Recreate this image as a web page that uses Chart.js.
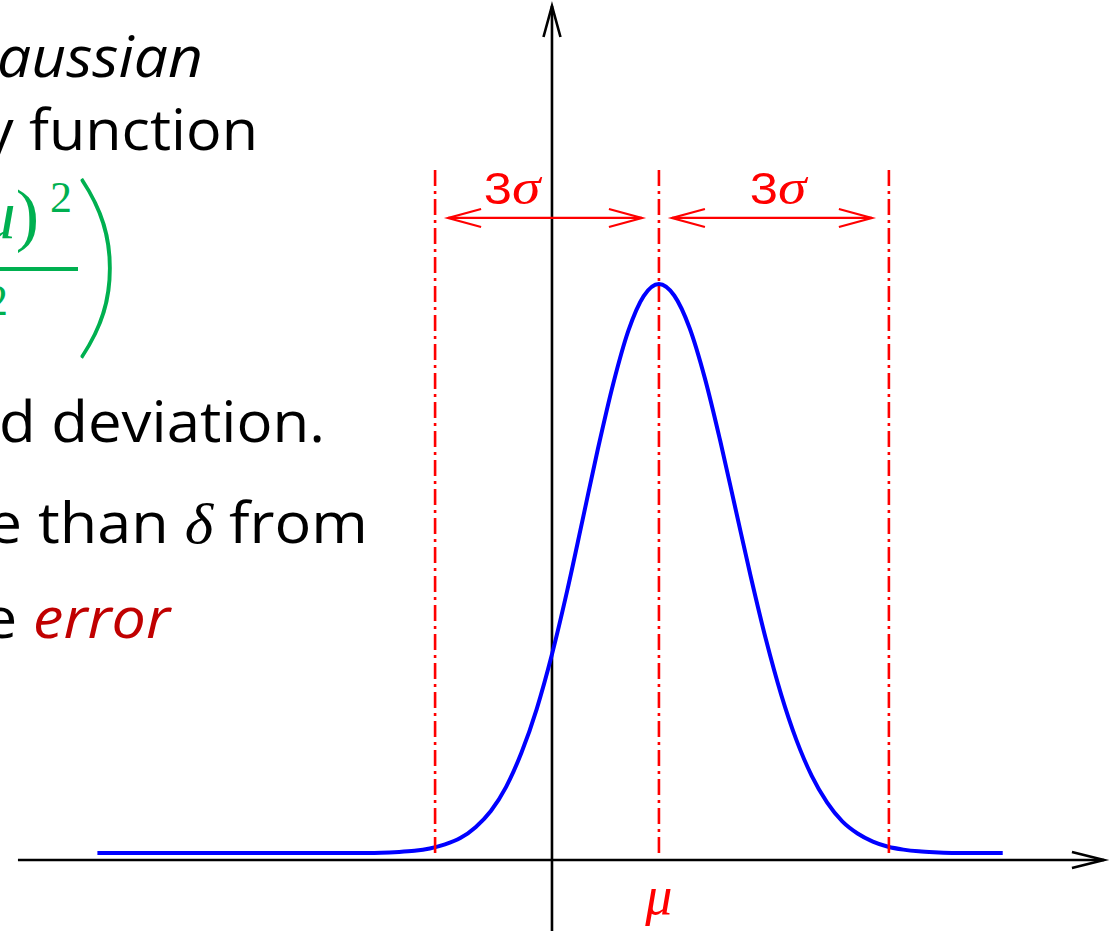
<!DOCTYPE html>
<html>
<head>
<meta charset="utf-8">
<title>Gaussian</title>
<script src="https://cdn.jsdelivr.net/npm/chart.js@4.4.1/dist/chart.umd.min.js"></script>
<style>
  html, body { margin: 0; padding: 0; background: #fff; }
  #wrap { position: relative; width: 1120px; height: 931px; overflow: hidden; background: #fff; }
  #chart-box { position: absolute; left: 0; top: 0; width: 1120px; height: 931px; }
  .fit { position: absolute; left: 0; top: 0; white-space: nowrap; transform-origin: 0 0; line-height: 1; }
  .txt { font-family: "Open Sans", sans-serif; font-size: 56px; color: #000; }
  .math { font-family: "Liberation Serif", serif; color: #00b050; }
  .bl { display: inline-block; width: 0; height: 0; }
  .serif-i { font-family: "Liberation Serif", serif; font-style: italic; }
  #bar { position: absolute; left: 0; top: 267px; width: 78px; height: 4px; background: #00b050; }
  .clab { position: absolute; color: #ff0000; white-space: nowrap; line-height: normal; }
  .sig3 { font-family: "Liberation Sans", sans-serif; font-size: 44px; }
  .mu { font-family: "Liberation Serif", serif; font-style: italic; font-size: 54px; }
  .paren { font-family: Lato, sans-serif; font-weight: 200; font-size: 205px; -webkit-text-stroke: 1.6px #00b050; }
</style>
</head>
<body>
<div id="wrap">
  <!-- slide text, cut off on the left like the original -->
  <div class="fit txt" data-l="-3" data-r="203" data-b="77">The <i>G<span class="anchor">aussian</span></i><span class="bl"></span></div>
  <div class="fit txt" data-l="-16" data-r="258" data-b="150">probability densit<span class="anchor">y function</span><span class="bl"></span></div>
  <div class="fit math" style="font-size:70px;font-style:italic" data-r="39" data-b="238">(<i>x</i> − <i>μ</i><span class="anchor" style="font-style:normal">)</span><span class="bl"></span></div>
  <div class="fit math" style="font-size:44px" data-r="72" data-b="212"><span class="anchor">2</span><span class="bl"></span></div>
  <div id="bar"></div>
  <div class="fit math" style="font-size:44px" data-r="8" data-b="315">2<i>σ</i><span class="anchor">2</span><span class="bl"></span></div>
  <div class="fit math paren" data-r="124" data-b="333"><span class="anchor">)</span><span class="bl"></span></div>
  <div class="fit txt" data-l="-1" data-r="325" data-b="442">where <span class="serif-i">σ</span> is the standar<span class="anchor">d deviation.</span><span class="bl"></span></div>
  <div class="fit txt" data-l="38" data-r="368" data-b="543">Probability of being more <span class="anchor">than <span class="serif-i">δ</span> from</span><span class="bl"></span></div>
  <div class="fit txt" data-l="33" data-r="170" data-b="638">the mean is the <i class="anchor" style="color:#c00000">error</i><span class="bl"></span></div>

  <div id="chart-box"><canvas id="gauss"></canvas></div>

  <div id="lab0" class="clab sig3">3<span class="serif-i" style="font-size:50px">σ</span></div>
  <div id="lab1" class="clab sig3">3<span class="serif-i" style="font-size:50px">σ</span></div>
  <div id="lab2" class="clab mu">μ</div>
</div>

<script>
// curve (x in sigma units, vertical axis at x = 0)
const curveX = [-5.95, -5, -4, -3, -2.4, -2.0, -1.8, -1.6, -1.4, -1.2, -1.0, -0.8, -0.6, -0.4, -0.2, 0,
  0.2, 0.4, 0.6, 0.8, 1.0, 1.2, 1.4, 1.6, 1.8, 2.0, 2.2, 2.4, 2.6, 2.8, 3.0, 3.2, 3.4, 3.6, 3.8,
  4.0, 4.2, 4.4, 4.6, 4.8, 5.0, 5.4, 5.9];
const curveY = [0.012, 0.012, 0.012, 0.012, 0.012, 0.014, 0.016, 0.020, 0.027, 0.038, 0.057, 0.085, 0.127, 0.186, 0.262, 0.357,
  0.468, 0.590, 0.713, 0.826, 0.919, 0.979, 1.000, 0.980, 0.924, 0.837, 0.729, 0.611, 0.493, 0.383, 0.287, 0.208, 0.146, 0.100, 0.067,
  0.046, 0.032, 0.023, 0.018, 0.015, 0.0135, 0.012, 0.012];

// mu - 3 sigma, mu, mu + 3 sigma
const markerX = [-1.53, 1.4, 4.41];
const markerLabels = ['', 'μ', ''];
const spanLabels = ['3σ', '3σ'];

// where things sit, in axis units
const cfg = {
  xMin: -7.225, xMax: 7.435, yMin: -0.1233, yMax: 1.493,
  xAxisFrom: -6.99, xAxisTo: 7.225, yAxisFrom: -0.2, yAxisTo: 1.4826,
  markerBottom: 0.012, markerTop: 1.201,
  spanY: 1.1146, spanLabelX: [-0.52, 2.96], spanLabelY: 1.168, muLabelY: -0.063
};

function openHead(ctx, tx, ty, dx, dy, len, half) {
  const bx = tx - dx * len, by = ty - dy * len;
  ctx.beginPath();
  ctx.moveTo(bx - dy * half, by + dx * half);
  ctx.lineTo(tx, ty);
  ctx.lineTo(bx + dy * half, by - dx * half);
  ctx.stroke();
}

const extras = {
  id: 'extras',
  beforeDatasetsDraw(chart) {
    const { ctx, scales: { x, y } } = chart;
    ctx.save();
    ctx.strokeStyle = '#000';
    ctx.lineWidth = 2.6;
    const yz = y.getPixelForValue(0), xz = x.getPixelForValue(0);
    const xa = x.getPixelForValue(cfg.xAxisFrom), xb = x.getPixelForValue(cfg.xAxisTo);
    const ya = y.getPixelForValue(cfg.yAxisFrom), yb = y.getPixelForValue(cfg.yAxisTo);
    ctx.beginPath(); ctx.moveTo(xa, yz); ctx.lineTo(xb, yz); ctx.stroke();
    openHead(ctx, xb, yz, 1, 0, 32, 8);
    ctx.beginPath(); ctx.moveTo(xz, ya); ctx.lineTo(xz, yb); ctx.stroke();
    openHead(ctx, xz, yb, 0, -1, 31, 8.5);
    ctx.restore();
  },
  afterDatasetsDraw(chart) {
    const { ctx, scales: { x, y } } = chart;
    ctx.save();
    ctx.strokeStyle = '#ff0000';
    ctx.lineWidth = 2.2;
    const ys = y.getPixelForValue(cfg.spanY);
    for (let i = 0; i < spanLabels.length; i++) {
      const a = x.getPixelForValue(markerX[i]) + 13;
      const b = x.getPixelForValue(markerX[i + 1]) - 17;
      ctx.beginPath(); ctx.moveTo(a, ys); ctx.lineTo(b, ys); ctx.stroke();
      openHead(ctx, a, ys, -1, 0, 33, 9);
      openHead(ctx, b, ys, 1, 0, 33, 9);
      const el = document.getElementById('lab' + i);
      el.style.left = x.getPixelForValue(cfg.spanLabelX[i]) + 'px';
      el.style.top = y.getPixelForValue(cfg.spanLabelY) + 'px';
      el.style.transform = 'translate(-50%, -50%) scaleX(1.15)';
    }
    const mu = document.getElementById('lab2');
    mu.textContent = markerLabels[1];
    mu.style.left = x.getPixelForValue(markerX[1]) + 'px';
    mu.style.top = y.getPixelForValue(cfg.muLabelY) + 'px';
    mu.style.transform = 'translate(-50%, -50%)';
    ctx.restore();
  }
};

const datasets = markerX.map(m => ({
  data: [{ x: m, y: cfg.markerBottom }, { x: m, y: cfg.markerTop }],
  borderColor: '#ff0000',
  borderWidth: 2.6,
  borderDash: [16, 5, 3, 5],
  pointRadius: 0
}));
datasets.push({
  data: curveX.map((v, i) => ({ x: v, y: curveY[i] })),
  borderColor: '#0000ff',
  borderWidth: 4,
  pointRadius: 0,
  cubicInterpolationMode: 'monotone'
});

new Chart(document.getElementById('gauss'), {
  type: 'line',
  data: { datasets: datasets },
  options: {
    responsive: true,
    maintainAspectRatio: false,
    animation: false,
    layout: { padding: 0 },
    plugins: { legend: { display: false }, tooltip: { enabled: false } },
    scales: {
      x: { type: 'linear', display: false, min: cfg.xMin, max: cfg.xMax },
      y: { type: 'linear', display: false, min: cfg.yMin, max: cfg.yMax }
    }
  },
  plugins: [extras]
});

// squeeze/stretch each text line so its visible end lands where the slide has it
function fitText() {
  document.querySelectorAll('.fit').forEach(el => {
    el.style.transform = 'none';
    const e = el.getBoundingClientRect();
    const a = el.querySelector('.anchor').getBoundingClientRect();
    const b = el.querySelector('.bl').getBoundingClientRect();
    const tr = +el.dataset.r, tb = +el.dataset.b;
    let s = 1, dx;
    if (el.dataset.l !== undefined) {
      s = (tr - +el.dataset.l) / a.width;
      dx = +el.dataset.l - s * (a.left - e.left);
    } else {
      dx = tr - (a.right - e.left);
    }
    const dy = tb - (b.top - e.top);
    el.style.transform = `translate(${dx}px, ${dy}px) scaleX(${s})`;
  });
}
fitText();
if (document.fonts) document.fonts.ready.then(fitText);
</script>
</body>
</html>
